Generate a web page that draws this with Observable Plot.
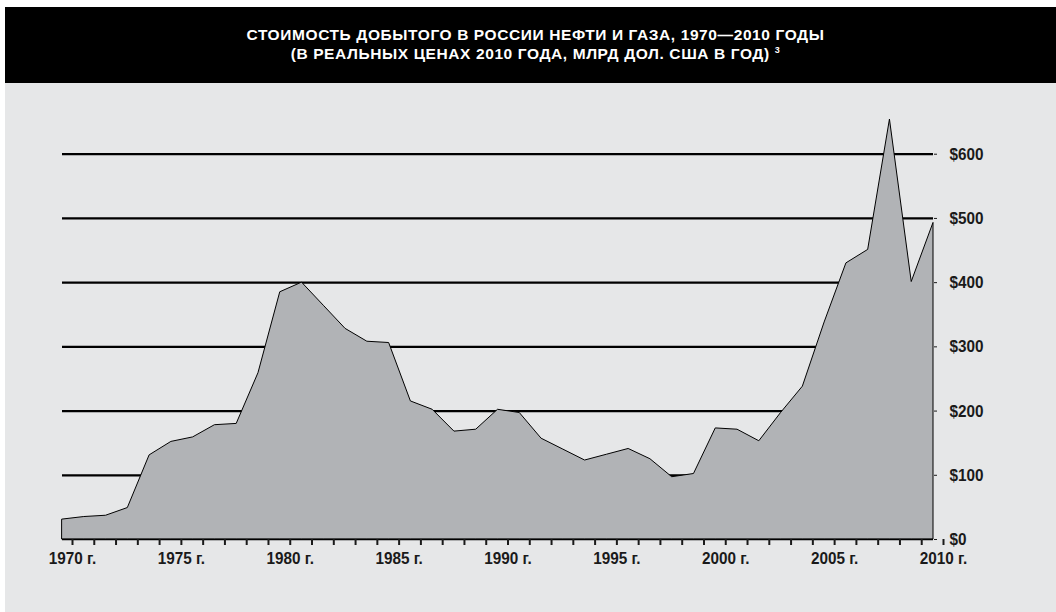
<!DOCTYPE html>
<html>
<head>
<meta charset="utf-8">
<script src="https://cdn.jsdelivr.net/npm/d3@7"></script>
<script src="https://cdn.jsdelivr.net/npm/@observablehq/plot@0.6"></script>
<style>
  html, body { margin: 0; padding: 0; background: #ffffff; width: 1056px; height: 612px; overflow: hidden; }
  #title {
    position: absolute; left: 5px; top: 7px; width: 1051px; height: 76px;
    background: #000000; color: #ffffff;
    font-family: "Liberation Sans", Arial, sans-serif; font-weight: 700; font-size: 15.5px; letter-spacing: 0.6px;
    text-align: center; box-sizing: border-box; padding-top: 19px; padding-left: 10px;
  }
  #title div { height: 18.6px; line-height: 18.6px; white-space: nowrap; }
  #title sup { font-size: 9px; vertical-align: 6px; line-height: 0; }
  #panel { position: absolute; left: 5px; top: 83px; width: 1051px; height: 529px; background: #e6e7e8; }
  #chart { position: absolute; left: 0px; top: 83px; }
  #chart svg { background: transparent; overflow: visible; }
</style>
</head>
<body>
<div id="title"><div>СТОИМОСТЬ ДОБЫТОГО В РОССИИ НЕФТИ И ГАЗА, 1970—2010 ГОДЫ</div><div>(В РЕАЛЬНЫХ ЦЕНАХ 2010 ГОДА, МЛРД ДОЛ. США В ГОД) <sup>3</sup></div></div>
<div id="panel"></div>
<div id="chart"></div>
<script>
const years = [1970,1971,1972,1973,1974,1975,1976,1977,1978,1979,1980,1981,1982,1983,1984,1985,1986,1987,1988,1989,1990,1991,1992,1993,1994,1995,1996,1997,1998,1999,2000,2001,2002,2003,2004,2005,2006,2007,2008,2009,2010];
const values = [31,35,37,49,131,152,159,178,180,259,385,400,364,328,308,306,215,202,168,171,202,197,157,140,123,132,141,125,97,102,173,171,153,197,238,338,430,451,654,401,493];
const yTicks = [0,100,200,300,400,500,600];
const gridValues = [100,200,300,400,500,600];
const labelYears = [1970,1975,1980,1985,1990,1995,2000,2005,2010];

const data = years.map((year, i) => ({year, value: values[i]}));
const font = '"Liberation Sans", Arial, sans-serif';

const chart = Plot.plot({
  width: 1056,
  height: 529,
  marginLeft: 62,
  marginRight: 123,
  marginTop: 6.5,
  marginBottom: 73,
  style: {background: "transparent", fontFamily: font, fontWeight: "bold", fontSize: "17px", color: "#1a1a1a"},
  x: {domain: [1970, 2010], label: null},
  y: {domain: [0, 700], label: null},
  marks: [
    Plot.ruleY(gridValues, {x1: 1970, x2: 2010, stroke: "#000", strokeWidth: 2.2}),
    Plot.areaY(data, {x: "year", y: "value", fill: "#b1b3b6", stroke: "#000", strokeWidth: 1}),
    Plot.ruleY([0], {x1: 1970, x2: 2010, stroke: "#000", strokeWidth: 1.5}),
    Plot.axisX({ticks: years, tickSize: 6, strokeWidth: 2, tickPadding: 6, dx: 10,
      tickFormat: d => labelYears.includes(d) ? `${d} г.` : "",
      fontSize: 17, fontWeight: "bold", fill: "#1a1a1a"}),
    Plot.axisY({anchor: "right", ticks: yTicks, tickSize: 3, tickPadding: 13, textAnchor: "start",
      tickFormat: d => "$" + d, fontSize: 17, fontWeight: "bold", fill: "#1a1a1a"})
  ]
});
// condense the axis labels horizontally (the original uses a condensed face)
chart.querySelectorAll('g[aria-label$="tick label"] text').forEach(t => {
  const tr = t.getAttribute("transform") || "";
  t.setAttribute("transform", tr + " scale(0.9,1)");
});
document.getElementById("chart").appendChild(chart);
</script>
</body>
</html>
